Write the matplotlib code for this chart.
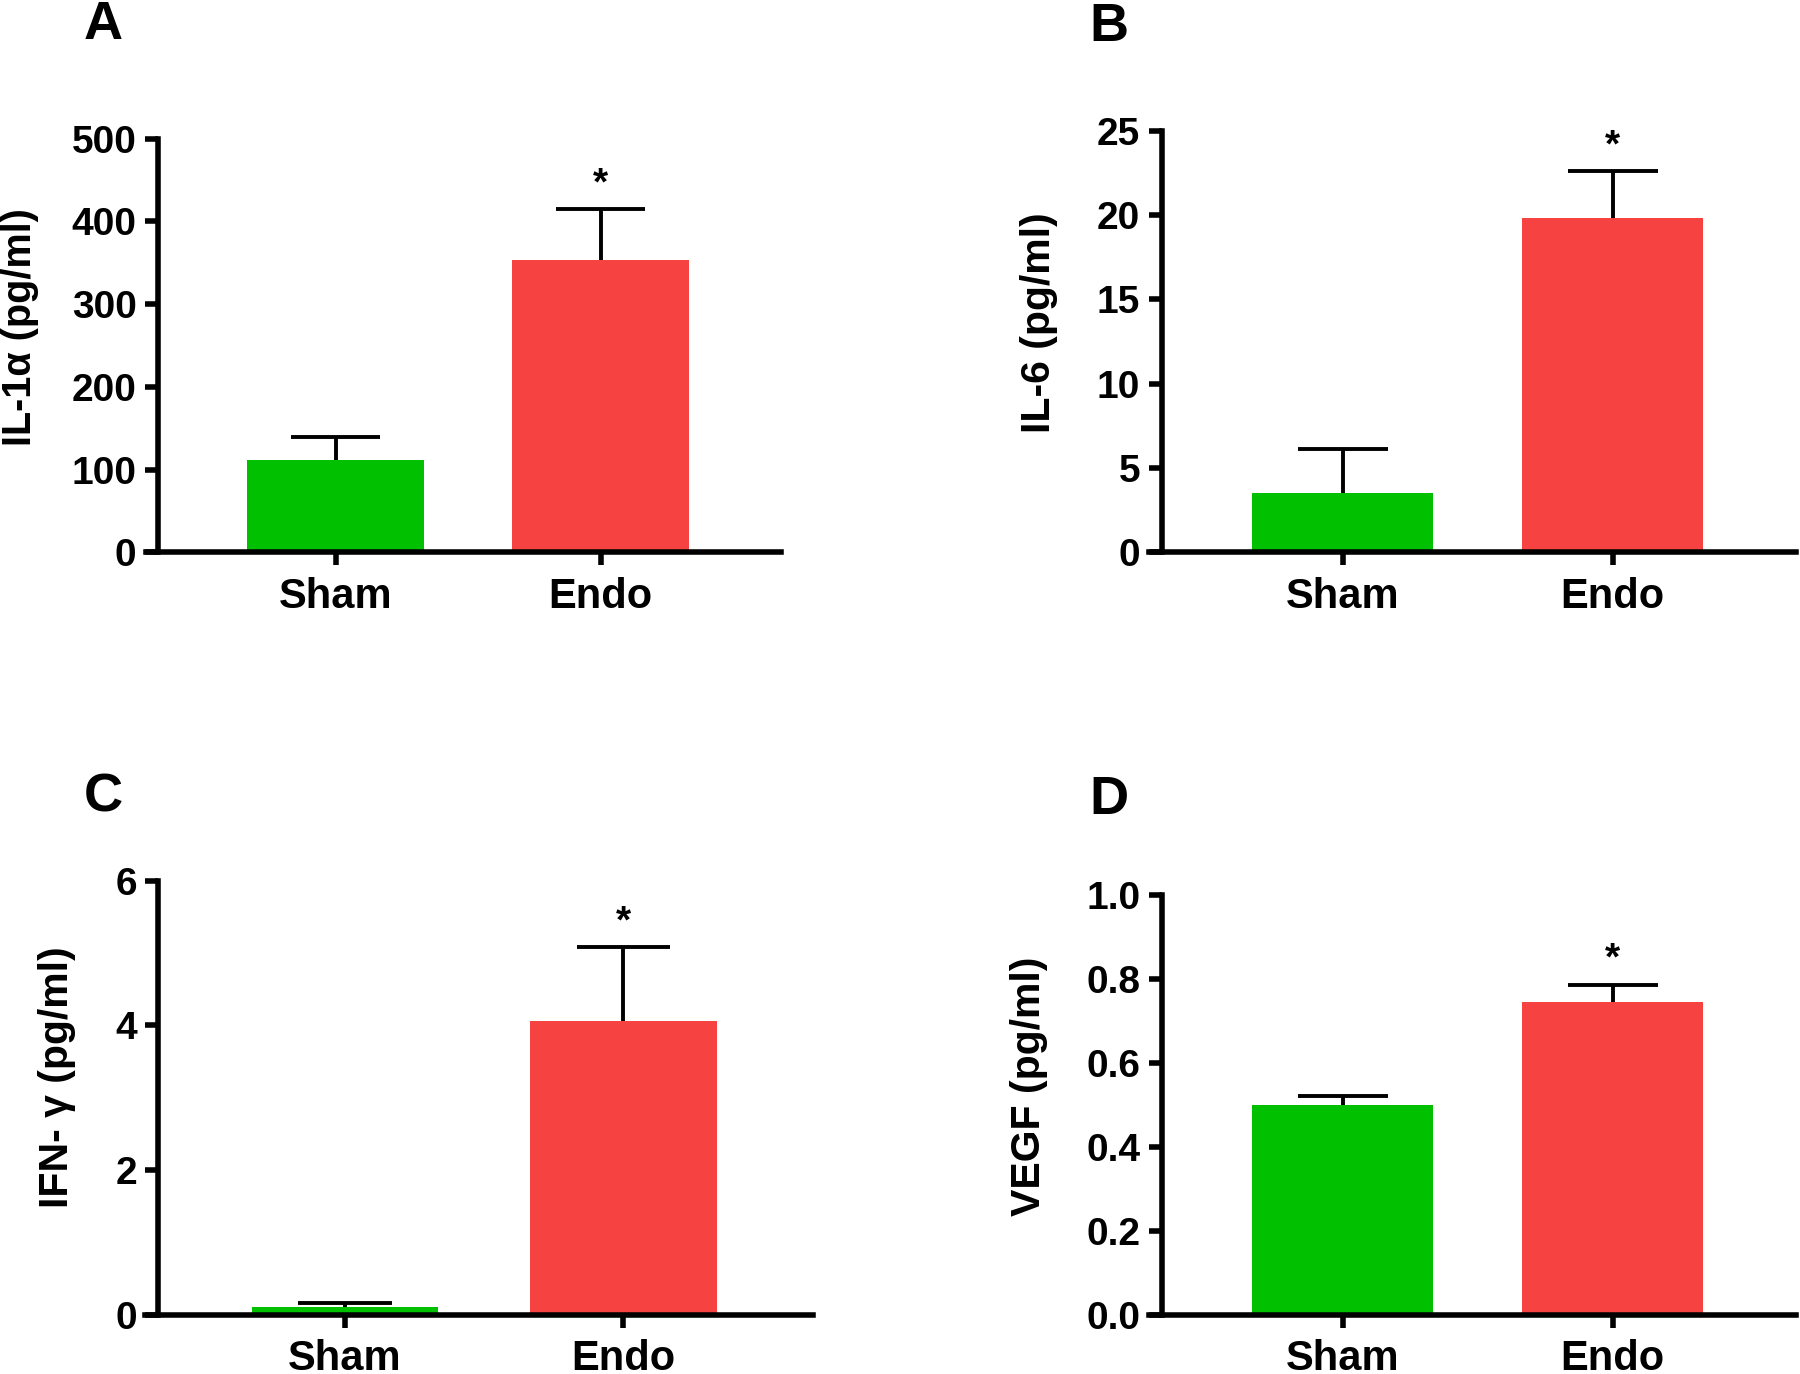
import matplotlib.pyplot as plt
from matplotlib.ticker import FormatStrFormatter

groups = ["Sham", "Endo"]
colors = ["#00c000", "#f74242"]

il1a_mean = [112, 354]
il1a_sem = [28, 61]

il6_mean = [3.5, 19.8]
il6_sem = [2.6, 2.8]

ifng_mean = [0.11, 4.06]
ifng_sem = [0.05, 1.02]

vegf_mean = [0.50, 0.745]
vegf_sem = [0.022, 0.042]

panels = [
    # letter, ylabel, means, sems, ymax, step, fmt, axes rect, label coords, label size, letter pos
    ("A", "IL-1α (pg/ml)", il1a_mean, il1a_sem, 500, 100, "%d",
     [0.0878, 0.598, 0.346, 0.301], (-0.222, 0.545), 28.5, (103, 25)),
    ("B", "IL-6 (pg/ml)", il6_mean, il6_sem, 25, 5, "%d",
     [0.6455, 0.598, 0.3525, 0.307], (-0.194, 0.544), 29.5, (1109, 27)),
    ("C", "IFN- γ (pg/ml)", ifng_mean, ifng_sem, 6, 2, "%d",
     [0.088, 0.0433, 0.3636, 0.3157], (-0.155, 0.546), 29.5, (103, 798)),
    ("D", "VEGF (pg/ml)", vegf_mean, vegf_sem, 1.0, 0.2, "%.1f",
     [0.6455, 0.0433, 0.3525, 0.305], (-0.21, 0.544), 29.5, (1109, 800)),
]

plt.rcParams["font.family"] = ["Liberation Sans", "DejaVu Sans"]
plt.rcParams["font.weight"] = "bold"

fig = plt.figure(figsize=(18, 13.74), dpi=100)

bar_w = 0.67
for letter, ylabel, means, sems, ymax, step, fmt, rect, lcoords, lsize, lpos in panels:
    ax = fig.add_axes(rect)
    x = [0, 1]
    tops = [m + s for m, s in zip(means, sems)]
    ax.bar(x, means, width=bar_w, color=colors, zorder=2)
    ax.vlines(x, means, tops, color="black", lw=2.8, zorder=1)
    ax.hlines(tops, [xi - bar_w / 4 for xi in x], [xi + bar_w / 4 for xi in x],
              color="black", lw=2.8, zorder=1)
    ax.annotate("*", (x[1], tops[1]), xytext=(0, 18), textcoords="offset points",
                ha="center", va="center", fontsize=28, fontweight="bold")

    xlo, xhi = -0.67, 1.68
    ax.set_xlim(xlo, xhi)
    ax.set_ylim(0, ymax)
    n = int(round(ymax / step))
    ax.set_yticks([i * step for i in range(n + 1)])
    ax.yaxis.set_major_formatter(FormatStrFormatter(fmt))
    ax.set_xticks(x)
    ax.set_xticklabels(groups)

    for side in ["top", "right"]:
        ax.spines[side].set_visible(False)
    for side in ["left", "bottom"]:
        ax.spines[side].set_linewidth(4)
    ax.spines["bottom"].set_bounds(xlo - 0.047, xhi)

    ax.tick_params(axis="both", width=4, length=9.5, direction="out")
    ax.tick_params(axis="y", pad=6, labelsize=28)
    ax.tick_params(axis="x", pad=8, labelsize=30)

    ax.set_ylabel(ylabel, fontsize=lsize, fontweight="bold", va="center")
    ax.yaxis.set_label_coords(*lcoords)

    fig.text(lpos[0] / 1800, 1 - lpos[1] / 1374, letter, ha="center", va="center",
             fontsize=39, fontweight="bold")

fig.savefig("out.png", dpi=100)
